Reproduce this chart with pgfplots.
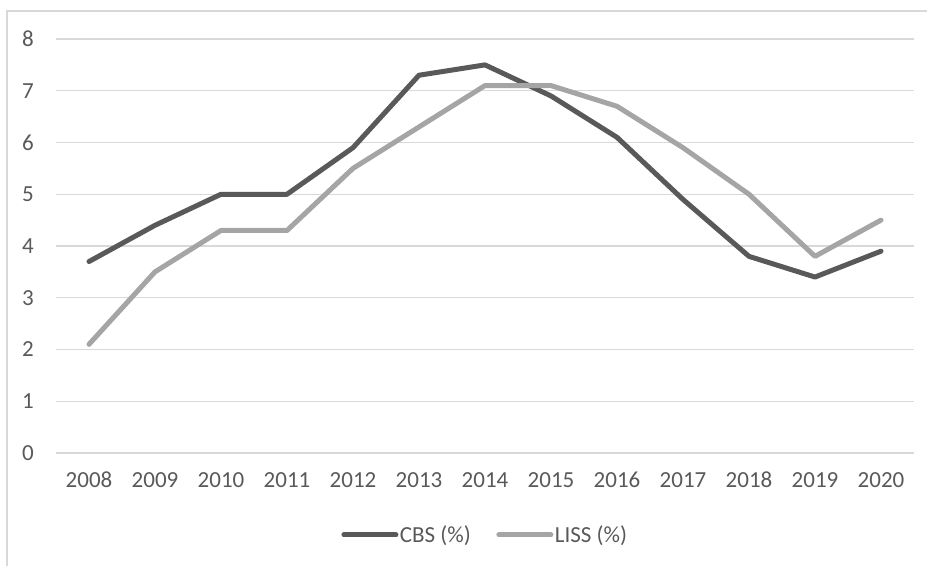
\documentclass[border=0pt]{standalone}
\usepackage{pgfplots}
\pgfplotsset{compat=1.18}
\usepackage{fontspec}
\setmainfont{Carlito}
\definecolor{cbs}{HTML}{595959}
\definecolor{liss}{HTML}{A5A5A5}
\definecolor{gridc}{HTML}{D9D9D9}
\definecolor{txt}{HTML}{595959}
\begin{document}
\begin{tikzpicture}[x=1pt,y=1pt]
\path[use as bounding box] (0,0) rectangle (927,566);
\draw[gridc, line width=1.3pt] (7,0) -- (7,555) -- (927,555);
\begin{axis}[
  at={(56pt,113pt)}, anchor=south west,
  scale only axis, width=858pt, height=414pt,
  xmin=-0.5, xmax=12.5, ymin=0, ymax=8,
  axis line style={draw=none},
  major tick length=0pt,
  ytick={0,1,...,8},
  xtick={0,...,12},
  xticklabels={2008,2009,2010,2011,2012,2013,2014,2015,2016,2017,2018,2019,2020},
  ymajorgrids, grid style={gridc, line width=1.3pt},
  tick label style={font=\fontsize{23}{27}\selectfont, text=txt},
  /pgf/number format/assume math mode=true,
  yticklabel style={anchor=east, inner sep=0pt, xshift=-22pt},
  xticklabel style={anchor=north, inner sep=0pt, yshift=-19pt},
  legend columns=2,
  legend style={at={(0.5,-0.198)}, anchor=center, draw=none, fill=none,
    font=\fontsize{23}{27}\selectfont, text=txt,
    nodes={inner sep=1.5pt},
    /tikz/every even column/.append style={column sep=24pt}},
  legend image code/.code={\draw[#1, line cap=round] (0pt,0pt) -- (52pt,0pt);},
  every axis legend/.append style={inner sep=0pt},
]
\addplot[cbs, line width=5pt, line join=round, line cap=round] coordinates {
(0,3.7) (1,4.4) (2,5.0) (3,5.0) (4,5.9) (5,7.3) (6,7.5) (7,6.9) (8,6.1) (9,4.9) (10,3.8) (11,3.4) (12,3.9)};
\addlegendentry{CBS (\%)}
\addplot[liss, line width=5pt, line join=round, line cap=round] coordinates {
(0,2.1) (1,3.5) (2,4.3) (3,4.3) (4,5.5) (5,6.3) (6,7.1) (7,7.1) (8,6.7) (9,5.9) (10,5.0) (11,3.8) (12,4.5)};
\addlegendentry{LISS (\%)}
\end{axis}
\end{tikzpicture}
\end{document}
